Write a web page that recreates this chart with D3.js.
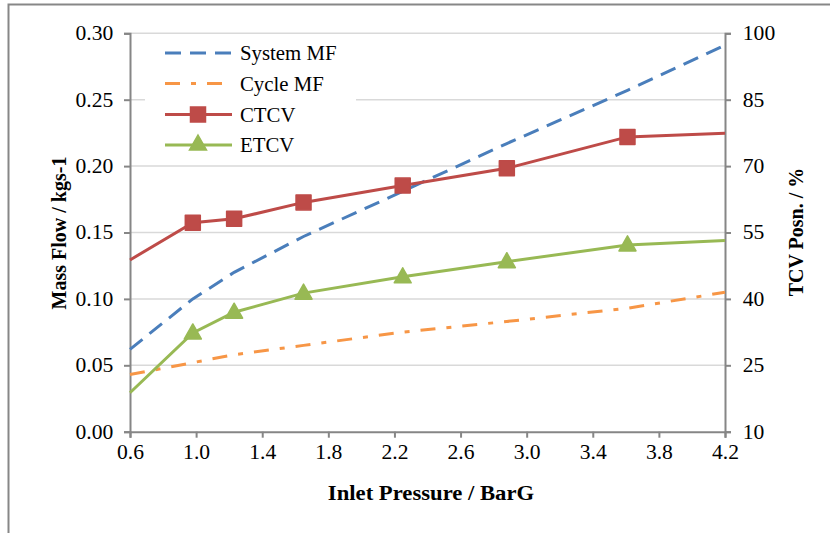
<!DOCTYPE html>
<html>
<head>
<meta charset="utf-8">
<script src="https://cdn.jsdelivr.net/npm/d3@7"></script>
<style>
  body { margin: 0; background: #fff; }
  svg { display: block; font-family: "Liberation Serif", "Times New Roman", serif; }
</style>
</head>
<body>
<script>
// values
var pressure = [0.6, 0.98, 1.23, 1.65, 2.25, 2.88, 3.61, 4.2];
var systemMF = [0.062, 0.100, 0.120, 0.147, 0.181, 0.217, 0.257, 0.291];
var cycleMF  = [0.043, 0.052, 0.058, 0.065, 0.075, 0.083, 0.093, 0.105];
var ctcv     = [48.8, 57.2, 58.1, 61.8, 65.6, 69.5, 76.6, 77.4];
var etcv     = [18.8, 32.3, 37.0, 41.3, 45.0, 48.4, 52.2, 53.2];

var xTicks = [0.6, 1.0, 1.4, 1.8, 2.2, 2.6, 3.0, 3.4, 3.8, 4.2];
var leftTicks = [0, 0.05, 0.10, 0.15, 0.20, 0.25, 0.30];
var rightTicks = [10, 25, 40, 55, 70, 85, 100];
var legendNames = ['System MF', 'Cycle MF', 'CTCV', 'ETCV'];

var width = 830, height = 533;
var plot = { left: 130, right: 725, top: 33.3, bottom: 431.7 };
var stretch = 1.08; // the reference text is a little wide

var svg = d3.select('body').append('svg')
            .attr('width', width)
            .attr('height', height);

// outer chart border (runs off the right and bottom edges)
svg.append('rect')
   .attr('x', 8.5).attr('y', 4.5)
   .attr('width', 900).attr('height', 600)
   .attr('fill', '#fff')
   .attr('stroke', '#878787')
   .attr('stroke-width', 2);

var x = d3.scaleLinear().domain([0.6, 4.2]).range([plot.left, plot.right]);
var yL = d3.scaleLinear().domain([0, 0.30]).range([plot.bottom, plot.top]);
var yR = d3.scaleLinear().domain([10, 100]).range([plot.bottom, plot.top]);

// gridlines
svg.append('g').selectAll('line')
   .data(leftTicks.slice(1))
   .enter().append('line')
   .attr('x1', plot.left).attr('x2', plot.right)
   .attr('y1', function (d) { return yL(d); })
   .attr('y2', function (d) { return yL(d); })
   .attr('stroke', '#d9d9d9')
   .attr('stroke-width', 1.5);

// axes
function styleAxis(g) {
  g.select('.domain').attr('stroke', '#868686').attr('stroke-width', 2);
  g.selectAll('.tick line').attr('stroke', '#868686').attr('stroke-width', 2);
  g.selectAll('.tick text')
   .attr('fill', '#000')
   .style('font-size', '20px')
   .style('font-family', '"Liberation Serif", "Times New Roman", serif')
   .attr('transform', 'scale(' + stretch + ',1)');
}

svg.append('g')
   .attr('transform', 'translate(0,' + plot.bottom + ')')
   .call(d3.axisBottom(x).tickValues(xTicks).tickFormat(d3.format('.1f')).tickSizeOuter(0).tickSize(6).tickPadding(7))
   .call(styleAxis);

svg.append('g')
   .attr('transform', 'translate(' + plot.left + ',0)')
   .call(d3.axisLeft(yL).tickValues(leftTicks).tickFormat(d3.format('.2f')).tickSizeOuter(0).tickSize(6).tickPadding(9.5))
   .call(styleAxis);

svg.append('g')
   .attr('transform', 'translate(' + plot.right + ',0)')
   .call(d3.axisRight(yR).tickValues(rightTicks).tickSizeOuter(0).tickSize(6).tickPadding(10.5))
   .call(styleAxis);

// axis titles
svg.append('text')
   .attr('transform', 'translate(431,500) scale(' + stretch + ',1)')
   .attr('text-anchor', 'middle')
   .style('font-size', '21px').style('font-weight', 'bold')
   .text('Inlet Pressure / BarG');

svg.append('text')
   .attr('transform', 'translate(66,233) rotate(-90)')
   .attr('text-anchor', 'middle')
   .style('font-size', '20px').style('font-weight', 'bold')
   .text('Mass Flow / kgs-1');

svg.append('text')
   .attr('transform', 'translate(803,232) rotate(-90)')
   .attr('text-anchor', 'middle')
   .style('font-size', '20px').style('font-weight', 'bold')
   .text('TCV Posn. / %');

// series
var colors = ['#4a7ebb', '#f79646', '#be4b48', '#98b954'];
var dashes = ['16,9', '15,11,5,11', null, null];

function drawLine(values, yScale, color, dash) {
  var line = d3.line()
               .x(function (d, i) { return x(pressure[i]); })
               .y(function (d) { return yScale(d); });
  svg.append('path')
     .datum(values)
     .attr('d', line)
     .attr('fill', 'none')
     .attr('stroke', color)
     .attr('stroke-width', 3)
     .attr('stroke-dasharray', dash);
}

drawLine(systemMF, yL, colors[0], dashes[0]);
drawLine(cycleMF, yL, colors[1], dashes[1]);
drawLine(ctcv, yR, colors[2], dashes[2]);
drawLine(etcv, yR, colors[3], dashes[3]);

var squarePath = 'M-7.5,-7.5H7.5V7.5H-7.5Z';
var trianglePath = 'M0,-9L8.5,6H-8.5Z';

// markers only on the measured points, the end points sit on the plot edge
function inner(d, i) { return i > 0 && i < pressure.length - 1; }

svg.append('g').selectAll('path')
   .data(ctcv.filter(inner).map(function (d, i) { return [pressure[i + 1], d]; }))
   .enter().append('path')
   .attr('d', squarePath)
   .attr('transform', function (d) { return 'translate(' + x(d[0]) + ',' + yR(d[1]) + ')'; })
   .attr('fill', colors[2])
   .attr('stroke', colors[2])
   .attr('stroke-width', 1.5)
   .attr('stroke-linejoin', 'round');

svg.append('g').selectAll('path')
   .data(etcv.filter(inner).map(function (d, i) { return [pressure[i + 1], d]; }))
   .enter().append('path')
   .attr('d', trianglePath)
   .attr('transform', function (d) { return 'translate(' + x(d[0]) + ',' + yR(d[1]) + ')'; })
   .attr('fill', colors[3])
   .attr('stroke', colors[3])
   .attr('stroke-width', 1.5)
   .attr('stroke-linejoin', 'round');

// legend
var legend = svg.append('g');
legend.append('rect')
      .attr('x', 145).attr('y', 40)
      .attr('width', 211).attr('height', 120)
      .attr('fill', '#fff');

var rowY = [53, 83.5, 114.5, 145];
legendNames.forEach(function (name, i) {
  legend.append('line')
        .attr('x1', 165).attr('x2', 232)
        .attr('y1', rowY[i]).attr('y2', rowY[i])
        .attr('stroke', colors[i])
        .attr('stroke-width', 3)
        .attr('stroke-dasharray', dashes[i]);
  if (i === 2) {
    legend.append('path').attr('d', squarePath)
          .attr('transform', 'translate(198,' + rowY[i] + ')')
          .attr('fill', colors[i]).attr('stroke', colors[i]).attr('stroke-width', 1.5);
  }
  if (i === 3) {
    legend.append('path').attr('d', trianglePath)
          .attr('transform', 'translate(198,' + (rowY[i] - 1) + ')')
          .attr('fill', colors[i]).attr('stroke', colors[i]).attr('stroke-width', 1.5);
  }
  legend.append('text')
        .attr('transform', 'translate(240,' + rowY[i] + ') scale(1.04,1)')
        .attr('dy', '0.35em')
        .style('font-size', '20px')
        .text(name);
});
</script>
</body>
</html>
